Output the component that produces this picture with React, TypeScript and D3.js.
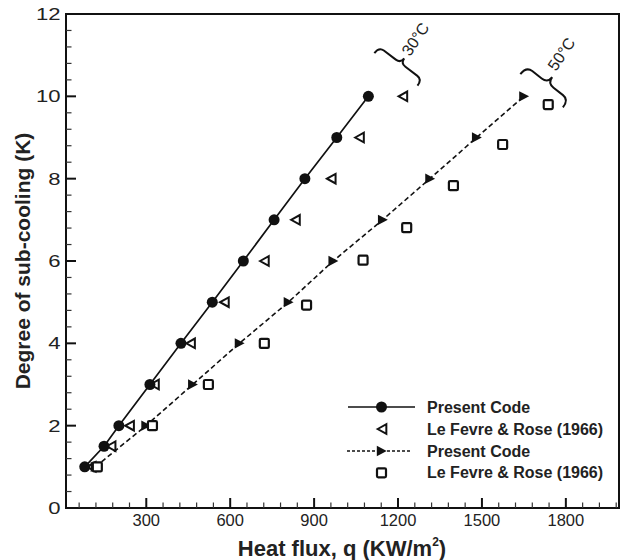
import React from "react";
import * as d3 from "d3";

// ---- Data ----
const subcool30 = [1, 1.5, 2, 3, 4, 5, 6, 7, 8, 9, 10];
const present30 = [80, 149, 202, 313, 424, 536, 647, 757, 867, 981, 1094];

const lefevreY30 = [1, 1.5, 2, 3, 4, 5, 6, 7, 8, 9, 10];
const lefevreX30 = [105, 176, 242, 331, 460, 581, 724, 835, 963, 1064, 1219];

const subcool50 = [1, 2, 3, 4, 5, 6, 7, 8, 9, 10];
const present50 = [118, 299, 466, 633, 808, 968, 1145, 1314, 1481, 1650];

const lefevreY50 = [1, 2, 3, 4, 4.93, 6.02, 6.81, 7.83, 8.83, 9.8];
const lefevreX50 = [125, 322, 522, 722, 873, 1075, 1231, 1398, 1574, 1737];

const xMajorTicks = [300, 600, 900, 1200, 1500, 1800];
const yMajorTicks = [0, 2, 4, 6, 8, 10, 12];

const legendLabels = [
  "Present Code",
  "Le Fevre & Rose (1966)",
  "Present Code",
  "Le Fevre & Rose (1966)",
];

const braceLabels = ["30°C", "50°C"];

// ---- Layout ----
const W = 621;
const H = 560;
const left = 66;
const right = 619;
const top = 14;
const bottom = 508;

const x = d3.scaleLinear().domain([13, 1990]).range([left, right]);
const y = d3.scaleLinear().domain([0, 12]).range([bottom, top]);

const xMinor = d3.range(60, 1990, 60).filter((v) => v % 300 !== 0);
const yMinor = d3.range(0.4, 12, 0.4).filter((v) => Math.abs(v / 2 - Math.round(v / 2)) > 1e-6);

function bracePath(L: number, h: number) {
  return `M ${-L},${h * 0.15} Q ${-L},${-h / 2} ${-L + h / 2},${-h / 2} L ${-h / 2},${-h / 2} Q 0,${-h / 2} 0,${-h} Q 0,${-h / 2} ${h / 2},${-h / 2} L ${L - h / 2},${-h / 2} Q ${L},${-h / 2} ${L},${h * 0.15}`;
}

const triLeft = (cx: number, cy: number, s = 4.8) =>
  `M ${cx - s},${cy} L ${cx + s * 0.8},${cy - s} L ${cx + s * 0.8},${cy + s} Z`;
const triRight = (cx: number, cy: number, s = 5.2) =>
  `M ${cx + s},${cy} L ${cx - s * 0.9},${cy - s} L ${cx - s * 0.9},${cy + s} Z`;

export default function App() {
  const line = d3
    .line<[number, number]>()
    .x((d) => x(d[0]))
    .y((d) => y(d[1]));

  const pts30: [number, number][] = present30.map((v, i) => [v, subcool30[i]]);
  const pts50: [number, number][] = present50.map((v, i) => [v, subcool50[i]]);

  const font = "'Liberation Sans', Arial, Helvetica, sans-serif";
  const legX = 381.5;
  const legTextX = 427;
  const legBase = [412.5, 434.5, 456.5, 478.3];

  return (
    <svg width={W} height={H} style={{ display: "block", position: "absolute", left: 0, top: 0 }} fontFamily={font}>
      <rect x={0} y={0} width={W} height={H} fill="#fff" />
      {/* frame */}
      <rect x={left} y={top} width={right - left} height={bottom - top} fill="none" stroke="#111" strokeWidth={2} />

      {/* x ticks */}
      {xMajorTicks.map((t) => (
        <g key={"xt" + t}>
          <line x1={x(t)} x2={x(t)} y1={bottom} y2={bottom - 10} stroke="#111" strokeWidth={2} />
          <text x={x(t)} y={526} textAnchor="middle" fontSize={16.5} fill="#222">
            {t}
          </text>
        </g>
      ))}
      {xMinor.map((t) => (
        <line key={"xm" + t} x1={x(t)} x2={x(t)} y1={bottom} y2={bottom - 5.5} stroke="#333" strokeWidth={1.2} />
      ))}

      {/* y ticks */}
      {yMajorTicks.map((t) => (
        <g key={"yt" + t}>
          <line x1={left} x2={left + 10} y1={y(t)} y2={y(t)} stroke="#111" strokeWidth={2} />
          <text
            transform={`translate(60.5,${y(t) + 6}) scale(1.3,1)`}
            textAnchor="end"
            fontSize={17}
            fill="#222"
          >
            {t}
          </text>
        </g>
      ))}
      {yMinor.map((t) => (
        <line key={"ym" + t} x1={left} x2={left + 5.5} y1={y(t)} y2={y(t)} stroke="#333" strokeWidth={1.2} />
      ))}

      {/* axis titles */}
      <text x={342} y={556} textAnchor="middle" fontSize={22} fontWeight="bold" fill="#222">
        Heat flux, q (KW/m
        <tspan fontSize={12} dy={-10}>2</tspan>
        <tspan dy={10}>)</tspan>
      </text>
      <text
        transform={`translate(30,261) rotate(-90)`}
        textAnchor="middle"
        fontSize={21}
        fontWeight="bold"
        fill="#222"
      >
        Degree of sub-cooling (K)
      </text>

      {/* 30C present code line */}
      <path d={line(pts30) || ""} fill="none" stroke="#111" strokeWidth={1.7} />
      {pts30.map((p, i) => (
        <circle key={"c30" + i} cx={x(p[0])} cy={y(p[1])} r={5.5} fill="#111" />
      ))}

      {/* 30C Le Fevre */}
      {lefevreX30.map((v, i) => (
        <path key={"t30" + i} d={triLeft(x(v), y(lefevreY30[i]))} fill="none" stroke="#111" strokeWidth={2} strokeLinejoin="miter" />
      ))}

      {/* 50C present code dashed */}
      <path d={line(pts50) || ""} fill="none" stroke="#111" strokeWidth={1.6} strokeDasharray="5,3" />
      {pts50.map((p, i) => (
        <path key={"a50" + i} d={triRight(x(p[0]), y(p[1]))} fill="#111" />
      ))}

      {/* 50C Le Fevre squares */}
      {lefevreX50.map((v, i) => (
        <rect key={"s50" + i} x={x(v) - 4.5} y={y(lefevreY50[i]) - 4.5} width={9} height={9} rx={1.2} fill="#fff" stroke="#111" strokeWidth={2.2} />
      ))}

      {/* braces and labels */}
      <path d={bracePath(27, 12)} transform="translate(397,68) rotate(37)" fill="none" stroke="#111" strokeWidth={2} />
      <text transform="translate(410,57) rotate(-56)" fontSize={16} fill="#222">
        {braceLabels[0]}
      </text>
      <path d={bracePath(27, 15)} transform="translate(543,89) rotate(38)" fill="none" stroke="#111" strokeWidth={2} />
      <text transform="translate(556,72) rotate(-56)" fontSize={16} fill="#222">
        {braceLabels[1]}
      </text>

      {/* legend */}
      <line x1={348} x2={415} y1={legBase[0] - 5.5} y2={legBase[0] - 5.5} stroke="#111" strokeWidth={1.7} />
      <circle cx={legX} cy={legBase[0] - 5.5} r={5.5} fill="#111" />
      <path d={triLeft(legX + 1, legBase[1] - 5.5)} fill="none" stroke="#111" strokeWidth={2} />
      <line x1={347} x2={412} y1={legBase[2] - 5.5} y2={legBase[2] - 5.5} stroke="#111" strokeWidth={1.5} strokeDasharray="3,2" />
      <path d={triRight(legX, legBase[2] - 5.5)} fill="#111" />
      <rect x={legX - 4.5} y={legBase[3] - 10} width={9} height={9} rx={1.2} fill="#fff" stroke="#111" strokeWidth={2.2} />
      {legendLabels.map((l, i) => (
        <text key={"lg" + i} x={legTextX} y={legBase[i]} fontSize={16} fontWeight="bold" fill="#222">
          {l}
        </text>
      ))}
    </svg>
  );
}
